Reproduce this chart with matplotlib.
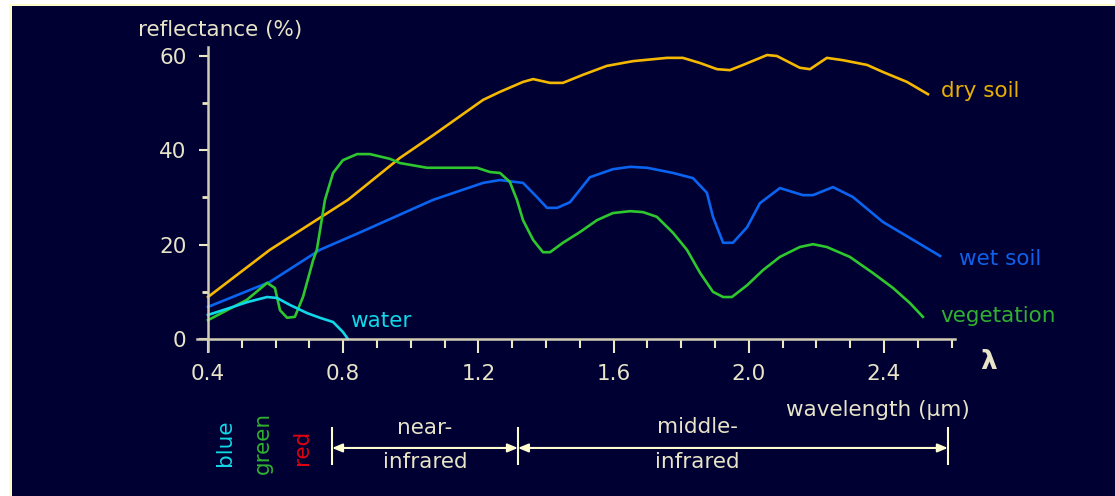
import matplotlib
matplotlib.use('Agg')
import matplotlib.pyplot as plt
from matplotlib.patches import Rectangle
from matplotlib.ticker import MultipleLocator

# spectral reflectance curves, wavelength in um / reflectance in %
dry_x = [0.40, 0.583, 0.814, 0.968, 1.066, 1.214, 1.264, 1.332, 1.362, 1.412, 1.450,
         1.509, 1.580, 1.657, 1.758, 1.805, 1.856, 1.906, 1.944, 1.983, 2.054, 2.083,
         2.151, 2.181, 2.231, 2.279, 2.350, 2.397, 2.468, 2.530]
dry_y = [8.9, 18.9, 29.5, 38.4, 43.2, 50.7, 52.4, 54.5, 55.1, 54.3, 54.3,
         56.0, 57.9, 58.9, 59.6, 59.6, 58.5, 57.2, 57.0, 58.1, 60.2, 60.0,
         57.5, 57.2, 59.6, 59.1, 58.1, 56.6, 54.5, 51.9]

wet_x = [0.40, 0.583, 0.731, 0.85, 1.066, 1.214, 1.264, 1.285, 1.332, 1.373, 1.403,
         1.433, 1.471, 1.530, 1.598, 1.649, 1.699, 1.776, 1.835, 1.876, 1.894, 1.924,
         1.953, 1.995, 2.033, 2.092, 2.160, 2.190, 2.249, 2.308, 2.397, 2.477, 2.566]
wet_y = [6.8, 12.1, 18.9, 22.6, 29.5, 33.1, 33.7, 33.5, 33.1, 30.1, 27.8,
         27.8, 29.0, 34.3, 36.0, 36.5, 36.3, 35.2, 34.1, 31.0, 25.9, 20.4,
         20.4, 23.7, 28.8, 32.0, 30.5, 30.5, 32.2, 30.1, 24.8, 21.4, 17.6]

veg_x = [0.40, 0.515, 0.575, 0.598, 0.613, 0.634, 0.657, 0.681, 0.711, 0.722, 0.746,
         0.770, 0.799, 0.841, 0.879, 0.938, 0.968, 1.048, 1.196, 1.234, 1.264, 1.293,
         1.314, 1.332, 1.362, 1.391, 1.412, 1.450, 1.501, 1.551, 1.598, 1.649, 1.687,
         1.728, 1.776, 1.817, 1.856, 1.894, 1.924, 1.950, 1.995, 2.042, 2.092, 2.151,
         2.190, 2.231, 2.299, 2.367, 2.427, 2.477, 2.515]
veg_y = [4.0, 8.3, 11.9, 10.8, 6.1, 4.5, 4.7, 8.9, 16.7, 18.9, 29.5,
         35.2, 37.9, 39.2, 39.2, 38.2, 37.3, 36.3, 36.3, 35.4, 35.2, 33.3,
         29.5, 25.2, 21.0, 18.4, 18.4, 20.4, 22.7, 25.2, 26.7, 27.1, 26.9,
         25.9, 22.5, 18.9, 14.0, 10.0, 8.9, 8.9, 11.4, 14.6, 17.4, 19.5,
         20.1, 19.5, 17.4, 14.0, 10.8, 7.6, 4.7]

water_x = [0.40, 0.465, 0.515, 0.575, 0.604, 0.643, 0.693, 0.731, 0.770, 0.799, 0.814]
water_y = [5.1, 6.6, 7.8, 8.9, 8.7, 7.2, 5.5, 4.5, 3.6, 1.5, 0.0]

# spectral regions below the axis
nir_span = (0.767, 1.317)
mir_span = (1.317, 2.589)

BG = '#000033'
FG = '#e8e4c8'
AXC = '#d2ceb6'
ORANGE = '#f5b800'
BLUE = '#0a64f0'
GREEN = '#2ec82e'
CYAN = '#10d8e8'
RED = '#e00010'

plt.rcParams['font.family'] = ['DejaVu Sans']
FS = 15.5

W, H = 1115, 496
fig = plt.figure(figsize=(W / 100, H / 100), dpi=100)
fig.patch.set_facecolor('white')
fig.add_artist(Rectangle((9 / W, 0), 1, 1 - 4 / H, transform=fig.transFigure,
                         facecolor='#fffccc', edgecolor='none', zorder=-2))
fig.add_artist(Rectangle((12 / W, 0), 1, 1 - 6 / H, transform=fig.transFigure,
                         facecolor=BG, edgecolor='none', zorder=-1))

# axes box in pixels: x 197..955, y 47..351
ax = fig.add_axes([197 / W, (H - 351) / H, (955 - 197) / W, (351 - 47) / H])
ax.set_facecolor('none')
ax.set_xlim(0.4 - 11 / 338, 0.4 + (955 - 208) / 338)
ax.set_ylim(-12 / 4.717, (339 - 47) / 4.717)

for s in ['top', 'right']:
    ax.spines[s].set_visible(False)
ax.spines['left'].set_position(('data', 0.4))
ax.spines['bottom'].set_position(('data', 0))
for s in ['left', 'bottom']:
    ax.spines[s].set_color(AXC)
    ax.spines[s].set_linewidth(1.8)

ax.xaxis.set_major_locator(MultipleLocator(0.4))
ax.xaxis.set_minor_locator(MultipleLocator(0.1))
ax.yaxis.set_major_locator(MultipleLocator(20))
ax.yaxis.set_minor_locator(MultipleLocator(10))
ax.set_xticks([0.4, 0.8, 1.2, 1.6, 2.0, 2.4])
ax.set_xticklabels(['0.4', '0.8', '1.2', '1.6', '2.0', '2.4'])
ax.set_yticks([0, 20, 40, 60])
ax.set_yticklabels(['0', '20', '40', '60'])
ax.tick_params(axis='x', which='major', direction='out', length=10, width=1.5,
               color='#ece8c4', labelcolor=FG, labelsize=FS, pad=8)
ax.tick_params(axis='x', which='minor', direction='out', length=6.5, width=1.5,
               color='#ece8c4')
ax.tick_params(axis='y', which='major', direction='out', length=6.5, width=1.5,
               color='#ece8c4', labelcolor=FG, labelsize=FS, pad=9)
ax.tick_params(axis='y', which='minor', direction='out', length=4.5, width=2,
               color='#ece8c4')

lw = 1.9
ax.plot(dry_x, dry_y, color=ORANGE, lw=lw, clip_on=False)
ax.plot(wet_x, wet_y, color=BLUE, lw=lw, clip_on=False)
ax.plot(veg_x, veg_y, color=GREEN, lw=lw, clip_on=False)
ax.plot(water_x, water_y, color=CYAN, lw=lw, clip_on=False)

ax.text(2.569, 52.6, 'dry soil', color='#e8b000', fontsize=FS, va='center')
ax.text(2.622, 17.0, 'wet soil', color='#1060e8', fontsize=FS, va='center')
ax.text(2.566, 4.9, 'vegetation', color='#30b030', fontsize=FS, va='center')
ax.text(0.820, 3.8, 'water', color=CYAN, fontsize=FS, va='center')

ax.text(0.436, 65.5, 'reflectance (%)', color=FG, fontsize=FS,
        ha='center', va='center', clip_on=False)
ax.text(2.708, -4.9, 'λ', color=FG, fontsize=19, fontweight='bold',
        ha='center', va='center', clip_on=False)
ax.text(2.382, -15.05, 'wavelength (μm)', color=FG, fontsize=FS,
        ha='center', va='center', clip_on=False)

ax.text(0.450, -22.0, 'blue', color=CYAN, fontsize=FS, rotation=90,
        ha='center', va='center', clip_on=False)
ax.text(0.563, -22.0, 'green', color='#30b030', fontsize=FS, rotation=90,
        ha='center', va='center', clip_on=False)
ax.text(0.678, -22.9, 'red', color=RED, fontsize=FS, rotation=90,
        ha='center', va='center', clip_on=False)

# bracketed spectral regions
y_arrow = -23.1
for x0, x1 in [nir_span, mir_span]:
    ax.annotate('', xy=(x0, y_arrow), xytext=(x1, y_arrow),
                arrowprops=dict(arrowstyle='<|-|>,head_length=0.6,head_width=0.25',
                                color='#fffcd0', lw=1.5, shrinkA=0, shrinkB=0),
                annotation_clip=False)
for xb in [nir_span[0], nir_span[1], mir_span[1]]:
    ax.plot([xb, xb], [-18.9, -26.5], color='#fffcd0', lw=1.5, clip_on=False)

ax.text(sum(nir_span) / 2, -18.9, 'near-', color=FG, fontsize=FS,
        ha='center', va='center', clip_on=False)
ax.text(sum(nir_span) / 2, -26.1, 'infrared', color=FG, fontsize=FS,
        ha='center', va='center', clip_on=False)
ax.text(1.847, -18.7, 'middle-', color=FG, fontsize=FS,
        ha='center', va='center', clip_on=False)
ax.text(1.847, -26.1, 'infrared', color=FG, fontsize=FS,
        ha='center', va='center', clip_on=False)

fig.savefig('out.png', dpi=100, facecolor=fig.get_facecolor())
